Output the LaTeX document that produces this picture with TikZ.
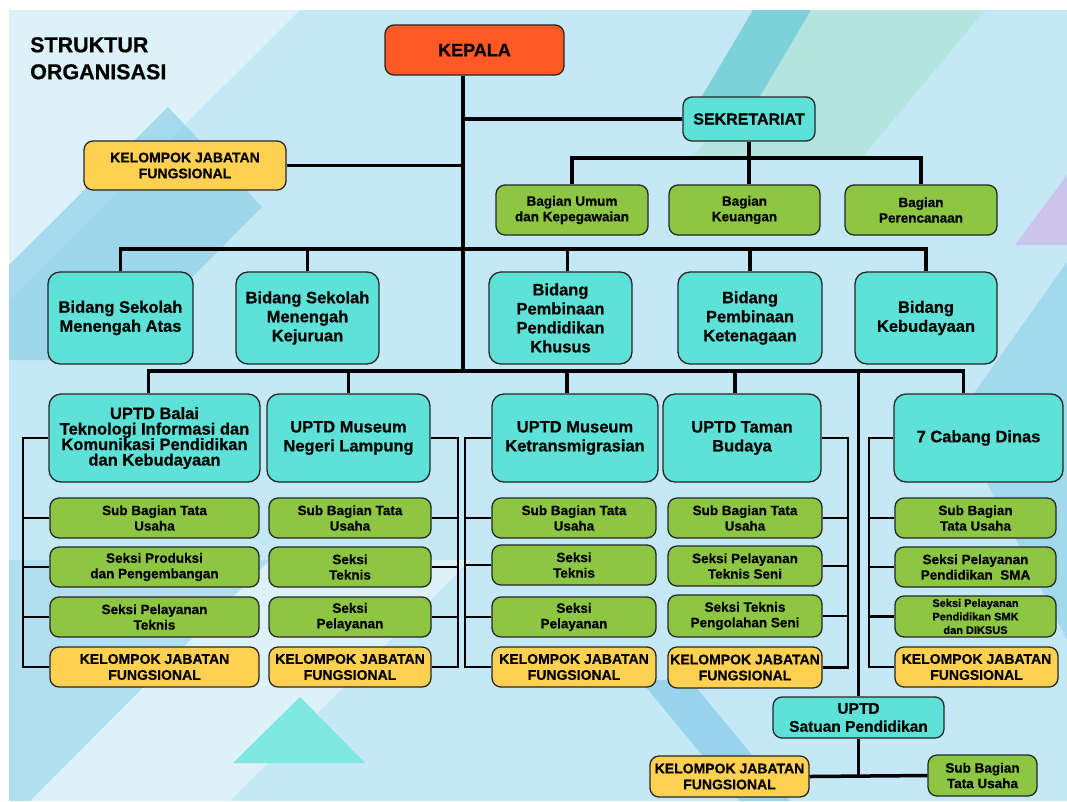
\documentclass[tikz,border=0pt]{standalone}
\usepackage{fontspec}
\setmainfont{Liberation Sans}[BoldFeatures={FakeBold=0.6}]
\definecolor{kepalaorange}{RGB}{255,90,38}
\definecolor{unitcyan}{RGB}{94,226,216}
\definecolor{seksigreen}{RGB}{141,198,66}
\definecolor{jfyellow}{RGB}{255,209,82}
\definecolor{bgblue}{RGB}{196,232,245}
\definecolor{bglight}{RGB}{221,241,249}
\definecolor{bgdeep}{RGB}{142,208,233}
\definecolor{bgteal}{RGB}{124,210,216}
\definecolor{bgmint}{RGB}{180,228,224}
\definecolor{bglilac}{RGB}{204,196,234}
\begin{document}
\begin{tikzpicture}[x=1pt,y=-1pt,
  orgbox/.style={draw=black!85, line width=1.3pt, rounded corners=9pt, inner sep=1pt, align=center},
  wh/.style 2 args={minimum width=#1pt, minimum height=#2pt},
  headbox/.style={orgbox, fill=kepalaorange, font=\fontsize{18}{21}\selectfont\bfseries},
  cyanbox/.style={orgbox, fill=unitcyan, rounded corners=12pt, font=\fontsize{16.5}{19}\selectfont\bfseries},
  greenbox/.style={orgbox, fill=seksigreen, font=\fontsize{13.5}{15.5}\selectfont\bfseries},
  jfbox/.style={orgbox, fill=jfyellow, font=\fontsize{14}{16}\selectfont\bfseries},
  wire/.style={line width=3.5pt},
  brk/.style={line width=2.2pt}]
\useasboundingbox (0,0) rectangle (1067,801);
\fill[white] (0,0) rectangle (1067,801);
\fill[bgblue] (9,10) rectangle (1067,801);
\fill[bglight] (9,10) -- (300,10) -- (9,300) -- cycle;
\fill[bgdeep, opacity=.7] (168,107) -- (262,207) -- (110,360) -- (9,360) -- (9,265) -- cycle;
\fill[bgmint] (811,10) -- (985,10) -- (860,160) -- (690,160) -- cycle;
\fill[bgteal] (753,10) -- (811,10) -- (740,130) -- (682,130) -- cycle;
\fill[bglilac] (1067,175) -- (1067,245) -- (1015,245) -- cycle;
\fill[bgdeep, opacity=.6] (1067,262) -- (1067,640) -- (955,420) -- cycle;
\fill[bglight] (270,560) -- (470,560) -- (230,801) -- (30,801) -- cycle;
\fill[bgdeep, opacity=.35] (9,560) -- (270,560) -- (30,801) -- (9,801) -- cycle;
\fill[bgdeep, opacity=.8] (640,680) -- (690,680) -- (790,801) -- (740,801) -- cycle;
\fill[unitcyan!80!white] (300,697) -- (365,763) -- (233,763) -- cycle;

\node[anchor=north west, inner sep=0, align=left, font=\fontsize{21.5}{27}\selectfont\bfseries] (title) at (30,37) {STRUKTUR\\ORGANISASI};

\node[headbox, wh={179}{50}] (kepala) at (474.5,50) {KEPALA};
\node[cyanbox, rounded corners=9pt, wh={132}{44}, font=\fontsize{16}{19}\selectfont\bfseries] (sekr) at (749,119) {SEKRETARIAT};
\node[jfbox, wh={202}{49}] (jf0) at (185,165.5) {KELOMPOK JABATAN\\FUNGSIONAL};
\node[greenbox, wh={152}{50}] (umum) at (572,210) {Bagian Umum\\dan Kepegawaian};
\node[greenbox, wh={151}{50}] (keu) at (744.5,210) {Bagian\\Keuangan};
\node[greenbox, wh={152}{50}] (renc) at (921,210) {Bagian\\Perencanaan};

\node[cyanbox, wh={145}{92}] (sma) at (120.5,318) {Bidang Sekolah\\Menengah Atas};
\node[cyanbox, wh={143}{92}] (smk) at (307.5,318) {Bidang Sekolah\\Menengah\\Kejuruan};
\node[cyanbox, wh={143}{92}] (ppk) at (560.5,318) {Bidang\\Pembinaan\\Pendidikan\\Khusus};
\node[cyanbox, wh={144}{92}] (pk) at (750,318) {Bidang\\Pembinaan\\Ketenagaan};
\node[cyanbox, wh={142}{92}] (keb) at (926,318) {Bidang\\Kebudayaan};

\node[cyanbox, wh={211}{88}, font=\fontsize{16.5}{15.5}\selectfont\bfseries] (balai) at (154.5,438) {UPTD Balai\\Teknologi Informasi dan\\Komunikasi Pendidikan\\dan Kebudayaan};
\node[cyanbox, wh={163}{88}] (lampung) at (348.5,438) {UPTD Museum\\Negeri Lampung};
\node[cyanbox, wh={166}{88}] (ketrans) at (575,438) {UPTD Museum\\Ketransmigrasian};
\node[cyanbox, wh={158}{88}] (taman) at (742,438) {UPTD Taman\\Budaya};
\node[cyanbox, wh={169}{88}] (cabang) at (978.5,438) {7 Cabang Dinas};

\node[greenbox, wh={209}{40}] (tua) at (154.5,518) {Sub Bagian Tata\\Usaha};
\node[greenbox, wh={209}{40}] (proda) at (154.5,567) {Seksi Produksi\\dan Pengembangan};
\node[greenbox, wh={209}{40}] (pela) at (154.5,617) {Seksi Pelayanan\\Teknis};
\node[jfbox, wh={209}{40}] (jfa) at (154.5,667) {KELOMPOK JABATAN\\FUNGSIONAL};

\node[greenbox, wh={162}{40}] (tub) at (350,518) {Sub Bagian Tata\\Usaha};
\node[greenbox, wh={162}{40}] (tekb) at (350,567) {Seksi\\Teknis};
\node[greenbox, wh={162}{40}] (pelb) at (350,617) {Seksi\\Pelayanan};
\node[jfbox, wh={162}{40}] (jfb) at (350,667) {KELOMPOK JABATAN\\FUNGSIONAL};

\node[greenbox, wh={164}{40}] (tuc) at (574,518) {Sub Bagian Tata\\Usaha};
\node[greenbox, wh={164}{40}] (tekc) at (574,565) {Seksi\\Teknis};
\node[greenbox, wh={164}{40}] (pelc) at (574,617) {Seksi\\Pelayanan};
\node[jfbox, wh={164}{40}] (jfc) at (574,667) {KELOMPOK JABATAN\\FUNGSIONAL};

\node[greenbox, wh={154}{40}] (tud) at (745,518) {Sub Bagian Tata\\Usaha};
\node[greenbox, wh={154}{40}] (seni) at (745,566) {Seksi Pelayanan\\Teknis Seni};
\node[greenbox, wh={154}{42}] (olah) at (745,616) {Seksi Teknis\\Pengolahan Seni};
\node[jfbox, wh={154}{41}] (jfd) at (745,667.5) {KELOMPOK JABATAN\\FUNGSIONAL};

\node[greenbox, wh={161}{40}] (tue) at (975.5,518) {Sub Bagian\\Tata Usaha};
\node[greenbox, wh={161}{40}] (sma2) at (975.5,567) {Seksi Pelayanan\\Pendidikan~~SMA};
\node[greenbox, wh={161}{41}, font=\fontsize{11}{13.5}\selectfont\bfseries] (smk2) at (975.5,616.5) {Seksi Pelayanan\\Pendidikan SMK\\dan DIKSUS};
\node[jfbox, wh={163}{40}] (jfe) at (976.5,667) {KELOMPOK JABATAN\\FUNGSIONAL};

\node[cyanbox, rounded corners=9pt, wh={171}{41}, font=\fontsize{15.5}{18}\selectfont\bfseries] (satpen) at (858.5,717.5) {UPTD\\Satuan Pendidikan};
\node[jfbox, wh={159}{41}] (jfsp) at (729.5,776.5) {KELOMPOK JABATAN\\FUNGSIONAL};
\node[greenbox, wh={109}{41}] (tusp) at (982.5,775.5) {Sub Bagian\\Tata Usaha};

\coordinate (trunk) at (463,371);
\coordinate (sbus) at (0,158);
\coordinate (bbus) at (0,249);
\draw[wire] (kepala.south -| trunk) -- (trunk);
\draw[wire] (sekr.west) -- (sekr.west -| trunk);
\draw[wire] (jf0.east) -- (jf0.east -| trunk);
\draw[wire] (umum.north) -- (umum.north |- sbus) -- (renc.north |- sbus) -- (renc.north);
\draw[wire] (sekr.south) -- (sekr.south |- keu.north);
\draw[wire] (sma.north) -- (sma.north |- bbus) -- (keb.north |- bbus) -- (keb.north);
\draw[wire] (smk.north) -- (smk.north |- bbus);
\draw[wire] ([xshift=7pt]ppk.north) -- ([xshift=7pt]ppk.north |- bbus);
\draw[wire] (pk.north) -- (pk.north |- bbus);
\draw[wire] ([xshift=-6pt]balai.north) |- ([xshift=-15pt]cabang.north |- trunk) -- ([xshift=-15pt]cabang.north);
\draw[wire] (lampung.north) -- (lampung.north |- trunk);
\draw[wire] ([xshift=-8pt]ketrans.north) -- ([xshift=-8pt]ketrans.north |- trunk);
\draw[wire] ([xshift=-7pt]taman.north) -- ([xshift=-7pt]taman.north |- trunk);
\draw[wire] (satpen.north) -- (satpen.north |- trunk);
\draw[wire] (jfsp.east) -- (tusp.west);
\draw[wire] (satpen.south) -- (satpen.south |- jfsp.east);

\draw[brk] (balai.west) -- ++(-25,0) |- (jfa.west);
\foreach \s in {tua,proda,pela} \draw[brk] (\s.west) -- ++(-26,0);
\draw[brk] (lampung.east) -- ++(27,0) |- (jfb.east);
\foreach \s in {tub,tekb,pelb} \draw[brk] (\s.east) -- ++(26,0);
\draw[brk] (ketrans.west) -- ++(-26,0) |- (jfc.west);
\foreach \s in {tuc,tekc,pelc} \draw[brk] (\s.west) -- ++(-26,0);
\draw[brk] (taman.east) -- ++(26,0) |- (jfd.east);
\foreach \s in {tud,seni,olah} \draw[brk] (\s.east) -- ++(25,0);
\draw[brk] (cabang.west) -- ++(-24,0) |- (jfe.west);
\foreach \s in {tue,sma2,smk2} \draw[brk] (\s.west) -- ++(-25,0);
\end{tikzpicture}
\end{document}
